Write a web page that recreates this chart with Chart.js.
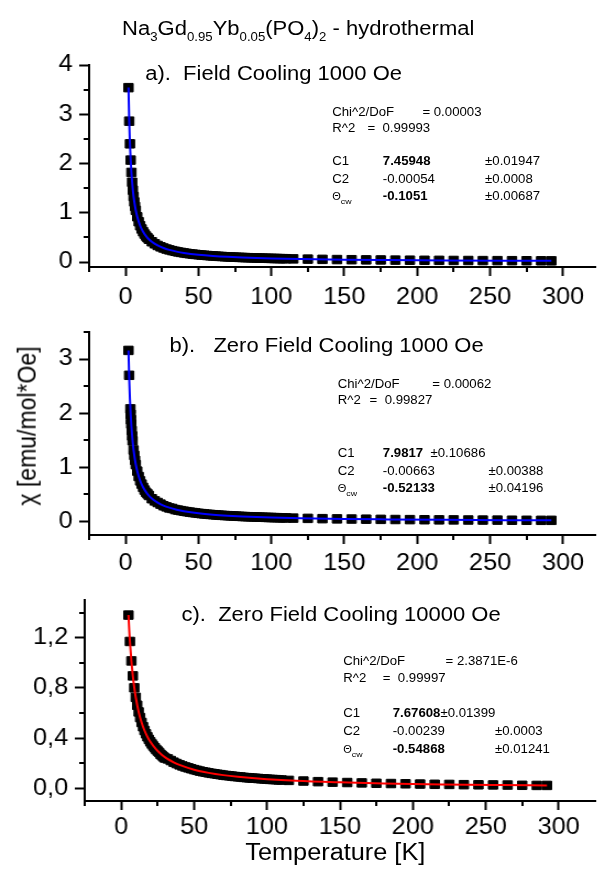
<!DOCTYPE html>
<html>
<head>
<meta charset="utf-8">
<script src="https://cdn.jsdelivr.net/npm/chart.js@4.4.1/dist/chart.umd.min.js"></script>
<style>
  body { margin: 0; background: #fff; width: 603px; height: 869px; overflow: hidden; }
  #wrap { position: absolute; left: 0; top: 0; width: 548px; height: 869px; transform: scaleX(1.1); transform-origin: 0 0; font-family: "Liberation Sans", Arial, sans-serif; color: #000; }
  #wrap canvas { position: absolute; left: 0; }
  .t { position: absolute; white-space: pre; }
  .big { font-size: 20px; line-height: 20px; }
  .ann { font-size: 12px; line-height: 12px; }
  .ann b { font-weight: bold; }
  .sub { font-size: 12px; line-height: 0; position: relative; top: 6px; }
  .th { font-size: 10px; }
  .cw { font-size: 8px; line-height: 0; position: relative; top: 4px; }
</style>
</head>
<body>
<div id="wrap">
  <canvas id="chartA" width="548" height="260" style="top:45px"></canvas>
  <canvas id="chartB" width="548" height="260" style="top:312px"></canvas>
  <canvas id="chartC" width="548" height="260" style="top:580px"></canvas>

  <div class="t big" style="left:111px;top:18px">Na<span class="sub">3</span>Gd<span class="sub">0.95</span>Yb<span class="sub">0.05</span>(PO<span class="sub">4</span>)<span class="sub">2</span> - hydrothermal</div>

  <div class="t big" style="left:132px;top:63px">a).  Field Cooling 1000 Oe</div>
  <div class="t big" style="left:154px;top:335px">b).   Zero Field Cooling 1000 Oe</div>
  <div class="t big" style="left:165px;top:604px">c).  Zero Field Cooling 10000 Oe</div>

  <!-- fit results a) -->
  <div class="t ann" style="left:302px;top:106px">Chi^2/DoF</div>
  <div class="t ann" style="left:384px;top:106px">= 0.00003</div>
  <div class="t ann" style="left:302px;top:122px">R^2</div>
  <div class="t ann" style="left:334px;top:122px">=  0.99993</div>
  <div class="t ann" style="left:302px;top:155px">C1</div>
  <div class="t ann" style="left:348px;top:155px"><b>7.45948</b></div>
  <div class="t ann" style="left:441px;top:155px">±0.01947</div>
  <div class="t ann" style="left:302px;top:173px">C2</div>
  <div class="t ann" style="left:348px;top:173px">-0.00054</div>
  <div class="t ann" style="left:441px;top:173px">±0.0008</div>
  <div class="t ann" style="left:302px;top:190px"><span class="th">Θ</span><span class="cw">cw</span></div>
  <div class="t ann" style="left:348px;top:190px"><b>-0.1051</b></div>
  <div class="t ann" style="left:441px;top:190px">±0.00687</div>

  <!-- fit results b) -->
  <div class="t ann" style="left:307px;top:378px">Chi^2/DoF</div>
  <div class="t ann" style="left:393px;top:378px">= 0.00062</div>
  <div class="t ann" style="left:307px;top:394px">R^2</div>
  <div class="t ann" style="left:336px;top:394px">=  0.99827</div>
  <div class="t ann" style="left:307px;top:447px">C1</div>
  <div class="t ann" style="left:348px;top:447px"><b>7.9817</b>  ±0.10686</div>
  <div class="t ann" style="left:307px;top:465px">C2</div>
  <div class="t ann" style="left:348px;top:465px">-0.00663</div>
  <div class="t ann" style="left:444px;top:465px">±0.00388</div>
  <div class="t ann" style="left:307px;top:482px"><span class="th">Θ</span><span class="cw">cw</span></div>
  <div class="t ann" style="left:348px;top:482px"><b>-0.52133</b></div>
  <div class="t ann" style="left:444px;top:482px">±0.04196</div>

  <!-- fit results c) -->
  <div class="t ann" style="left:312px;top:655px">Chi^2/DoF</div>
  <div class="t ann" style="left:405px;top:655px">= 2.3871E-6</div>
  <div class="t ann" style="left:312px;top:672px">R^2</div>
  <div class="t ann" style="left:348px;top:672px">=  0.99997</div>
  <div class="t ann" style="left:312px;top:707px">C1</div>
  <div class="t ann" style="left:357px;top:707px"><b>7.67608</b>±0.01399</div>
  <div class="t ann" style="left:312px;top:725px">C2</div>
  <div class="t ann" style="left:357px;top:725px">-0.00239</div>
  <div class="t ann" style="left:450px;top:725px">±0.0003</div>
  <div class="t ann" style="left:312px;top:743px"><span class="th">Θ</span><span class="cw">cw</span></div>
  <div class="t ann" style="left:357px;top:743px"><b>-0.54868</b></div>
  <div class="t ann" style="left:450px;top:743px">±0.01241</div>

  <div class="t" style="left:25px;top:426px;font-size:23px;line-height:23px;transform:translate(-50%,-50%) rotate(-90deg)">χ [emu/mol*Oe]</div>
  <div class="t" style="left:223px;top:841px;font-size:23px;line-height:23px">Temperature [K]</div>
</div>

<script>
// --- axis ticks ---
const xTicks = [0, 50, 100, 150, 200, 250, 300];
const xMinor = [-25, 25, 75, 125, 175, 225, 275];

const yTicksA = [0, 1, 2, 3, 4];
const yMinorA = [0.5, 1.5, 2.5, 3.5];
const yTicksB = [0, 1, 2, 3];
const yMinorB = [0.5, 1.5, 2.5, 3.5];
const yTicksC = [0, 0.4, 0.8, 1.2];
const yLabelsC = ['0,0', '0,4', '0,8', '1,2'];
const yMinorC = [0.2, 0.6, 1.0, 1.4];

// --- a) Field Cooling 1000 Oe ---
const tempA = [2, 2.5, 3, 3.5, 4, 4.5, 5, 5.5, 6, 6.5, 7, 8, 9, 10, 11, 12, 13, 14, 15, 16,
  18, 20, 22, 24, 26, 28, 30, 32, 34, 36, 38, 40, 42, 44, 46, 48, 50, 52, 54, 56, 58, 60,
  62, 64, 66, 68, 70, 72, 74, 76, 78, 80, 82, 84, 86, 88, 90, 92, 94, 96, 98, 100, 102, 104,
  106, 108, 110, 115, 125, 135, 145, 155, 165, 175, 185, 195, 205, 215, 225, 235, 245, 255,
  265, 275, 285, 292];
const chiA = [3.54, 2.86, 2.40, 2.07, 1.82, 1.62, 1.46, 1.33, 1.22, 1.13, 1.05, 0.920, 0.819,
  0.738, 0.672, 0.616, 0.569, 0.529, 0.494, 0.463,
  0.412, 0.371, 0.337, 0.309, 0.286, 0.265, 0.248, 0.232, 0.219, 0.206, 0.196, 0.186, 0.177,
  0.169, 0.162, 0.155, 0.149, 0.143, 0.138, 0.133, 0.128, 0.124, 0.120, 0.116, 0.113, 0.109,
  0.106, 0.103, 0.101, 0.098, 0.095, 0.093, 0.091, 0.089, 0.087, 0.085, 0.083, 0.081, 0.079,
  0.078, 0.076, 0.074, 0.073, 0.072, 0.070, 0.069, 0.068,
  0.065, 0.060, 0.055, 0.051, 0.048, 0.045, 0.043, 0.040, 0.038, 0.036, 0.035, 0.033, 0.032,
  0.030, 0.029, 0.028, 0.027, 0.026, 0.025];
const fitTempAB = [2, 2.5, 3, 3.5, 4, 5, 6, 7, 8, 10, 12, 15, 18, 22, 26, 30, 35, 40, 50, 60,
  70, 80, 100, 120, 150, 180, 220, 260, 292];
const fitA = [3.542, 2.862, 2.402, 2.069, 1.817, 1.461, 1.221, 1.049, 0.920, 0.738, 0.616,
  0.493, 0.412, 0.337, 0.285, 0.247, 0.212, 0.186, 0.149, 0.124, 0.106, 0.093, 0.074, 0.062,
  0.049, 0.041, 0.033, 0.028, 0.025];

// --- b) Zero Field Cooling 1000 Oe ---
const tempB = [2, 2.45, 3.3, 3.5, 3.7, 3.9, 4.2, 4.5, 4.8, 5.5, 6, 6.5, 7, 8, 9, 10, 11, 12,
  13, 14, 15, 16,
  18, 20, 22, 24, 26, 28, 30, 32, 34, 36, 38, 40, 42, 44, 46, 48, 50, 52, 54, 56, 58, 60,
  62, 64, 66, 68, 70, 72, 74, 76, 78, 80, 82, 84, 86, 88, 90, 92, 94, 96, 98, 100, 102, 104,
  106, 108, 110, 115, 125, 135, 145, 155, 165, 175, 185, 195, 205, 215, 225, 235, 245, 255,
  265, 275, 285, 292];
const chiB = [3.16, 2.70, 2.08, 1.98, 1.88, 1.80, 1.68, 1.58, 1.49, 1.32, 1.22, 1.13, 1.05,
  0.93, 0.83, 0.75, 0.69, 0.63, 0.58, 0.54, 0.51, 0.48,
  0.42, 0.38, 0.35, 0.32, 0.29, 0.27, 0.25, 0.24, 0.22, 0.21, 0.20, 0.19, 0.181, 0.173, 0.165,
  0.158, 0.151, 0.145, 0.139, 0.134, 0.130, 0.125, 0.121, 0.117, 0.113, 0.110, 0.107, 0.104,
  0.101, 0.098, 0.095, 0.092, 0.090, 0.088, 0.086, 0.084, 0.082, 0.080, 0.078, 0.076, 0.074,
  0.073, 0.071, 0.070, 0.068, 0.067, 0.066,
  0.062, 0.057, 0.052, 0.048, 0.045, 0.042, 0.039, 0.036, 0.034, 0.032, 0.030, 0.029, 0.027,
  0.026, 0.025, 0.023, 0.022, 0.021, 0.021];
const fitB = [3.158, 2.635, 2.260, 1.978, 1.758, 1.439, 1.217, 1.054, 0.930, 0.752, 0.631,
  0.508, 0.424, 0.348, 0.294, 0.255, 0.218, 0.190, 0.151, 0.125, 0.107, 0.093, 0.073, 0.060,
  0.046, 0.038, 0.030, 0.024, 0.021];

// --- c) Zero Field Cooling 10000 Oe ---
const tempC = [5, 6, 7, 8, 9, 10, 11, 12, 13, 14, 15, 16, 17, 18, 19, 20, 21, 22, 23, 24, 25,
  26, 27, 28, 29, 30,
  32, 34, 36, 38, 40, 42, 44, 46, 48, 50, 52, 54, 56, 58, 60, 62, 64, 66, 68, 70, 72, 74, 76,
  78, 80, 82, 84, 86, 88, 90, 92, 94, 96, 98, 100, 102, 104, 106, 108, 110,
  115, 125, 135, 145, 155, 165, 175, 185, 195, 205, 215, 225, 235, 245, 255, 265, 275, 285, 292];
const chiC = [1.38, 1.17, 1.015, 0.896, 0.801, 0.725, 0.662, 0.609, 0.564, 0.525, 0.491, 0.461,
  0.435, 0.411, 0.390, 0.371, 0.354, 0.338, 0.324, 0.310, 0.298, 0.287, 0.272, 0.261, 0.251,
  0.242,
  0.235, 0.222, 0.209, 0.198, 0.188, 0.179, 0.171, 0.164, 0.157, 0.150, 0.144, 0.138, 0.133,
  0.129, 0.124, 0.120, 0.117, 0.113, 0.110, 0.106, 0.103, 0.101, 0.098, 0.095, 0.093, 0.091,
  0.088, 0.086, 0.084, 0.082, 0.081, 0.079, 0.077, 0.076, 0.074, 0.072, 0.071, 0.070, 0.068,
  0.067,
  0.064, 0.059, 0.054, 0.050, 0.047, 0.044, 0.041, 0.039, 0.037, 0.035, 0.033, 0.032, 0.030,
  0.029, 0.028, 0.027, 0.025, 0.024, 0.024];
const fitTempC = [5, 5.5, 6, 7, 8, 9, 10, 12, 14, 16, 18, 20, 24, 28, 32, 36, 40, 50, 60, 70,
  80, 100, 120, 150, 180, 220, 260, 292];
const fitC = [1.381, 1.267, 1.170, 1.015, 0.896, 0.801, 0.725, 0.609, 0.525, 0.461, 0.411,
  0.371, 0.310, 0.266, 0.233, 0.208, 0.187, 0.149, 0.124, 0.106, 0.093, 0.074, 0.061, 0.049,
  0.040, 0.032, 0.027, 0.024];

Chart.defaults.font.family = '"Liberation Sans", Arial, sans-serif';
Chart.defaults.color = '#000';

// short minor ticks, Chart.js only has one tick length
const minorTicks = {
  id: 'minorTicks',
  afterDraw(chart, args, opts) {
    const { ctx, chartArea, scales } = chart;
    ctx.save();
    ctx.strokeStyle = '#000';
    ctx.lineWidth = 2;
    ctx.beginPath();
    opts.x.forEach(v => {
      const px = Math.round(scales.x.getPixelForValue(v));
      ctx.moveTo(px, chartArea.bottom);
      ctx.lineTo(px, chartArea.bottom + 5);
    });
    opts.y.forEach(v => {
      const py = Math.round(scales.y.getPixelForValue(v));
      ctx.moveTo(chartArea.left, py);
      ctx.lineTo(chartArea.left - 5, py);
    });
    ctx.stroke();
    ctx.restore();
  }
};

function toPoints(xs, ys) {
  return xs.map((x, i) => ({ x: x, y: ys[i] }));
}

function makeChart(id, o) {
  const gridOpts = { display: true, drawOnChartArea: false, drawTicks: true, tickLength: 9, tickWidth: 2, tickColor: '#000' };
  const borderOpts = { display: true, color: '#000', width: 2 };
  return new Chart(document.getElementById(id), {
    type: 'scatter',
    data: {
      datasets: [
        {
          data: toPoints(o.fitT, o.fitY),
          showLine: true,
          borderColor: o.lineColor,
          borderWidth: 2,
          pointRadius: 0,
          cubicInterpolationMode: 'monotone',
          fill: false
        },
        {
          data: toPoints(o.temp, o.chi),
          pointStyle: 'rect',
          pointRadius: 6,
          backgroundColor: '#000',
          borderColor: '#000',
          borderWidth: 1
        }
      ]
    },
    options: {
      responsive: false,
      animation: false,
      layout: { padding: { top: o.padTop, right: 0, bottom: 0, left: 0 } },
      plugins: {
        legend: { display: false },
        tooltip: { enabled: false },
        minorTicks: { x: xMinor, y: o.yMinor }
      },
      scales: {
        x: {
          type: 'linear',
          min: -25,
          max: o.xMax,
          afterBuildTicks: s => { s.ticks = xTicks.map(v => ({ value: v })); },
          afterFit: s => { s.height = o.xHeight; },
          ticks: { autoSkip: false, maxRotation: 0, padding: o.xPad, font: { size: 23 }, callback: v => String(v) },
          grid: gridOpts,
          border: borderOpts
        },
        y: {
          type: 'linear',
          min: o.yMin,
          max: o.yMax,
          afterBuildTicks: s => { s.ticks = o.yTicks.map(v => ({ value: v })); },
          afterFit: s => { s.width = o.yWidth; },
          ticks: { padding: 6, font: { size: 23 }, callback: (v, i) => o.yLabels[i] },
          grid: gridOpts,
          border: borderOpts
        }
      }
    },
    plugins: [minorTicks]
  });
}

makeChart('chartA', {
  temp: tempA, chi: chiA, fitT: fitTempAB, fitY: fitA, lineColor: '#0000ff',
  yMin: -0.1, yMax: 4, yTicks: yTicksA, yLabels: yTicksA.map(String), yMinor: yMinorA,
  xMax: 322, yWidth: 81, padTop: 20, xHeight: 38, xPad: 8
});

makeChart('chartB', {
  temp: tempB, chi: chiB, fitT: fitTempAB, fitY: fitB, lineColor: '#0000ff',
  yMin: -0.25, yMax: 3.5, yTicks: yTicksB, yLabels: yTicksB.map(String), yMinor: yMinorB,
  xMax: 322, yWidth: 81, padTop: 20, xHeight: 37, xPad: 6
});

makeChart('chartC', {
  temp: tempC, chi: chiC, fitT: fitTempC, fitY: fitC, lineColor: '#ff0000',
  yMin: -0.1, yMax: 1.5, yTicks: yTicksC, yLabels: yLabelsC, yMinor: yMinorC,
  xMax: 325, yWidth: 77, padTop: 20, xHeight: 39, xPad: 4
});
</script>
</body>
</html>
